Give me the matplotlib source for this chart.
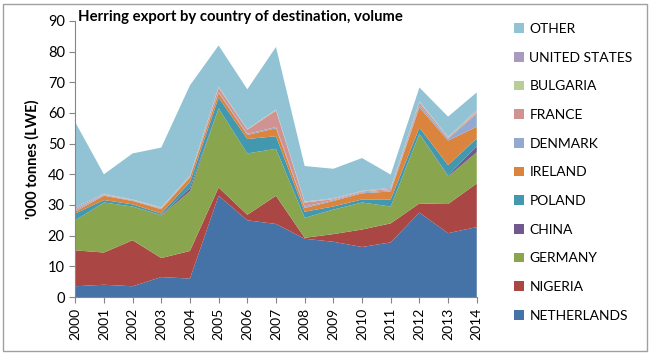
import matplotlib
matplotlib.use("Agg")
import matplotlib.pyplot as plt
from matplotlib.patches import Rectangle, Patch

years = list(range(2000, 2015))

netherlands = [3.5, 4.0, 3.5, 6.5, 6.0, 33.0, 25.0, 23.8, 19.0, 18.0, 16.3, 17.8, 27.5, 20.8, 22.8]
nigeria = [11.7, 10.5, 15.0, 6.2, 9.0, 2.7, 1.8, 9.2, 0.3, 2.5, 5.7, 6.2, 3.0, 9.5, 14.2]
germany = [9.8, 16.3, 11.0, 13.9, 19.5, 25.8, 20.0, 15.3, 6.5, 8.0, 8.8, 5.5, 22.7, 9.0, 10.2]
china = [0.0, 0.0, 0.0, 0.1, 1.0, 0.0, 0.0, 0.0, 0.0, 0.0, 0.0, 0.0, 0.0, 0.3, 2.0]
poland = [2.2, 0.8, 0.7, 0.5, 2.0, 3.5, 4.7, 4.1, 2.0, 1.0, 1.0, 2.3, 2.0, 3.4, 2.5]
ireland = [0.6, 1.4, 1.1, 1.4, 1.5, 1.5, 1.3, 2.6, 1.2, 1.8, 2.0, 2.6, 6.6, 8.0, 3.8]
denmark = [0.5, 0.2, 0.2, 0.2, 0.1, 0.3, 0.4, 0.4, 0.5, 0.3, 0.3, 0.4, 0.7, 0.6, 4.2]
france = [0.4, 0.2, 0.1, 0.2, 0.2, 1.4, 1.3, 5.4, 1.3, 0.3, 0.3, 0.4, 0.9, 0.3, 0.5]
bulgaria = [0.1, 0.1, 0.1, 0.1, 0.1, 0.2, 0.1, 0.2, 0.2, 0.1, 0.1, 0.1, 0.2, 0.1, 0.5]
united_states = [0.4, 0.2, 0.1, 0.1, 0.1, 0.2, 0.1, 0.1, 0.1, 0.2, 0.1, 0.3, 0.2, 0.2, 0.3]
other = [27.8, 6.3, 15.0, 19.5, 29.5, 13.4, 13.0, 20.4, 11.6, 9.6, 10.7, 4.3, 4.5, 6.6, 5.7]

series = [netherlands, nigeria, germany, china, poland, ireland,
          denmark, france, bulgaria, united_states, other]
labels = ["NETHERLANDS", "NIGERIA", "GERMANY", "CHINA", "POLAND", "IRELAND",
          "DENMARK", "FRANCE", "BULGARIA", "UNITED STATES", "OTHER"]
colors = ["#4572A7", "#AA4643", "#89A54E", "#71588F", "#4198AF", "#DB843D",
          "#93A9CF", "#D19392", "#B9CD96", "#A99BBD", "#92C3D4"]

plt.rcParams["font.family"] = ["Lato", "DejaVu Sans"]

fig = plt.figure(figsize=(6.54, 3.54), dpi=100)
ax = fig.add_axes([0.115, 0.161, 0.614, 0.780])

ax.stackplot(years, *series, colors=colors, labels=labels, linewidth=0)

ax.set_xlim(2000, 2014)
ax.set_ylim(0, 90)
ax.set_yticks(range(0, 91, 10))
ax.set_xticks(years)
ax.set_xticklabels([str(y) for y in years], rotation=90, fontsize=10)
ax.tick_params(axis="y", labelsize=10.5, length=4, color="#868686")
ax.tick_params(axis="x", length=4, color="#868686")
for s in ["top", "right"]:
    ax.spines[s].set_visible(False)
for s in ["left", "bottom"]:
    ax.spines[s].set_color("#868686")

ax.set_ylabel("'000 tonnes (LWE)", fontsize=10.5, fontweight="bold", labelpad=6)
fig.text(0.119, 0.952, "Herring export by country of destination, volume",
         fontsize=10.7, fontweight="bold", ha="left", va="center")

handles = [Patch(facecolor=c, edgecolor="none") for c in colors]
leg = fig.legend(handles[::-1], labels[::-1], loc="upper left",
                 bbox_to_anchor=(0.767, 0.97), frameon=False, fontsize=10,
                 handlelength=0.7, handleheight=0.7, handletextpad=0.4,
                 labelspacing=1.2)

fig.add_artist(Rectangle((0.004, 0.008), 0.986, 0.982, transform=fig.transFigure,
                         fill=False, edgecolor="#A0A0A0", linewidth=1))

fig.savefig("out.png", dpi=100)
